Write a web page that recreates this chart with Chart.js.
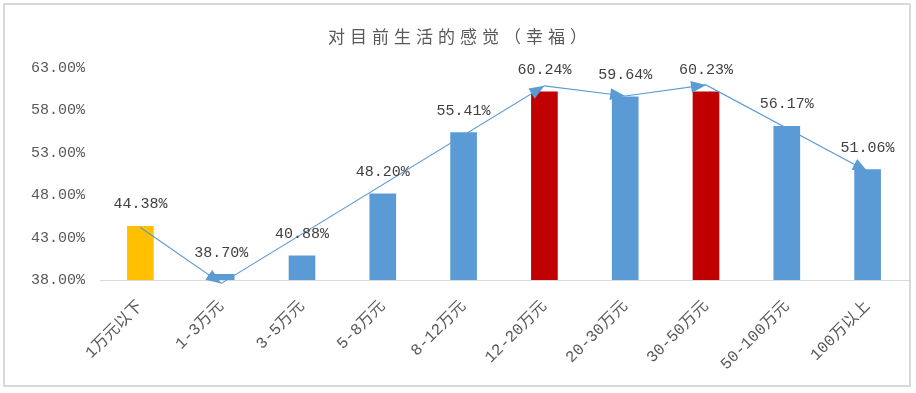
<!DOCTYPE html>
<html>
<head>
<meta charset="utf-8">
<script src="https://cdn.jsdelivr.net/npm/chart.js@4"></script>
<style>
    body { margin: 0; background: #fff; }
    #box {
        position: absolute; left: 3px; top: 3px;
        width: 908px; height: 384px;
        border: 2px solid #d9d9d9; box-sizing: border-box;
    }
</style>
</head>
<body>
<div id="box"><canvas id="graphic" width="904" height="380"></canvas></div>
<script>
const categories = ['1万元以下', '1-3万元', '3-5万元', '5-8万元', '8-12万元', '12-20万元', '20-30万元', '30-50万元', '50-100万元', '100万以上'];
const happyValues = [44.38, 38.70, 40.88, 48.20, 55.41, 60.24, 59.64, 60.23, 56.17, 51.06];
// trend arrows drawn over the bars (gaps skipped)
const trendValues = [44.2, 37.6, null, null, null, 60.9, 59.7, 61.0, null, 50.8];
const yTicks = [38, 43, 48, 53, 58, 63];

const barColors = ['#FFC000', '#5B9BD5', '#5B9BD5', '#5B9BD5', '#5B9BD5', '#C00000', '#5B9BD5', '#C00000', '#5B9BD5', '#5B9BD5'];
const numFont = '"Liberation Mono", "Noto Sans CJK SC", monospace';

const titlePlugin = {
    id: 'titleDraw',
    afterDraw(chart) {
        const ctx = chart.ctx;
        ctx.save();
        ctx.font = '17px "Noto Sans CJK SC"';
        ctx.fillStyle = '#595959';
        ctx.letterSpacing = '5px';
        ctx.textAlign = 'center';
        ctx.textBaseline = 'middle';
        ctx.fillText('对目前生活的感觉（幸福）', chart.width / 2 + 3, 32);
        ctx.restore();
    }
};

const labelPlugin = {
    id: 'barLabels',
    afterDatasetsDraw(chart) {
        const ctx = chart.ctx;
        const meta = chart.getDatasetMeta(0);
        ctx.save();
        ctx.font = '15px ' + numFont;
        ctx.fillStyle = '#404040';
        ctx.textAlign = 'center';
        ctx.textBaseline = 'bottom';
        meta.data.forEach((bar, i) => {
            ctx.fillText(happyValues[i].toFixed(2) + '%', bar.x, bar.y - 14);
        });
        ctx.restore();
    }
};

const arrowPlugin = {
    id: 'arrowHeads',
    afterDatasetsDraw(chart) {
        const ctx = chart.ctx;
        const pts = chart.getDatasetMeta(1).data.filter((p, i) => trendValues[i] !== null);
        ctx.save();
        ctx.fillStyle = '#5B9BD5';
        for (let i = 1; i < pts.length; i++) {
            const a = pts[i - 1], b = pts[i];
            const ang = Math.atan2(b.y - a.y, b.x - a.x);
            ctx.save();
            ctx.translate(b.x, b.y);
            ctx.rotate(ang);
            ctx.beginPath();
            ctx.moveTo(0, 0);
            ctx.lineTo(-15, -6);
            ctx.lineTo(-15, 6);
            ctx.closePath();
            ctx.fill();
            ctx.restore();
        }
        ctx.restore();
    }
};

new Chart(document.getElementById('graphic'), {
    data: {
        labels: categories,
        datasets: [{
            type: 'bar',
            data: happyValues,
            backgroundColor: barColors,
            barPercentage: 0.33,
            categoryPercentage: 1,
            order: 2
        }, {
            type: 'line',
            data: trendValues,
            borderColor: '#5B9BD5',
            borderWidth: 1.2,
            pointRadius: 0,
            spanGaps: true,
            tension: 0,
            clip: false,
            order: 1
        }]
    },
    options: {
        responsive: false,
        animation: false,
        layout: { padding: { top: 63, right: 1, left: 0, bottom: 0 } },
        scales: {
            y: {
                min: 38,
                max: 63,
                afterFit: s => { s.width = 95; },
                afterBuildTicks: s => { s.ticks = yTicks.map(v => ({ value: v })); },
                ticks: {
                    padding: 7,
                    color: '#595959',
                    font: { family: numFont, size: 15 },
                    callback: v => v.toFixed(2) + '%'
                },
                grid: { display: false },
                border: { display: false }
            },
            x: {
                afterFit: s => { s.height = 105; },
                ticks: {
                    minRotation: 45,
                    maxRotation: 45,
                    padding: 9,
                    color: '#595959',
                    font: { family: numFont, size: 16 }
                },
                grid: { display: false },
                border: { display: true, color: '#d9d9d9', width: 1 }
            }
        },
        plugins: {
            legend: { display: false },
            tooltip: { enabled: false }
        }
    },
    plugins: [titlePlugin, labelPlugin, arrowPlugin]
});
</script>
</body>
</html>
